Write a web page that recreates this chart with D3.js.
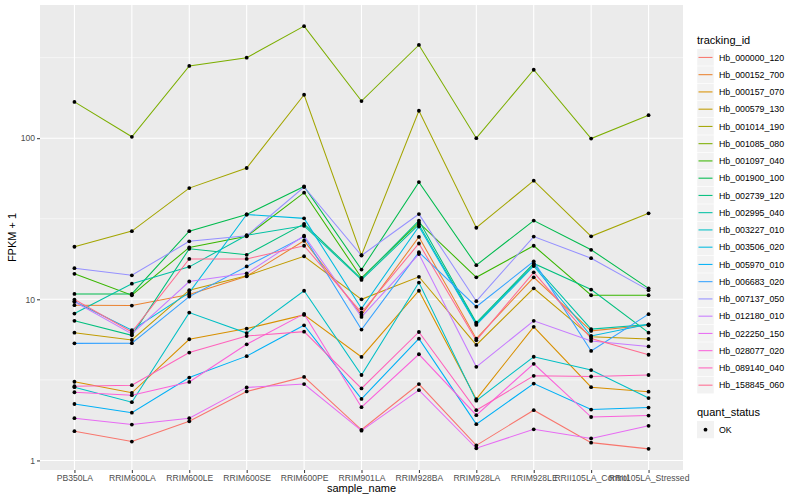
<!DOCTYPE html>
<html lang="en">
<head>
<meta charset="UTF-8">
<title>FPKM</title>
<script src="https://cdn.jsdelivr.net/npm/d3@7"></script>
<style>
  body { margin: 0; background: #fff; }
  text { font-family: "Liberation Sans", Arial, sans-serif; }
  .tick-label { font-size: 8.6px; fill: #4d4d4d; }
  .axis-title { font-size: 11px; fill: #000; }
  .legend-title { font-size: 11px; fill: #000; }
  .legend-label { font-size: 8.8px; fill: #000; }
</style>
</head>
<body>
<div id="chart"></div>
<script>
// samples on the x axis
const samples = ["PB350LA", "RRIM600LA", "RRIM600LE", "RRIM600SE", "RRIM600PE", "RRIM901LA",
  "RRIM928BA", "RRIM928LA", "RRIM928LE", "RRII105LA_Control", "RRII105LA_Stressed"];

const trackingIds = ["Hb_000000_120", "Hb_000152_700", "Hb_000157_070", "Hb_000579_130", "Hb_001014_190",
  "Hb_001085_080", "Hb_001097_040", "Hb_001900_100", "Hb_002739_120", "Hb_002995_040",
  "Hb_003227_010", "Hb_003506_020", "Hb_005970_010", "Hb_006683_020", "Hb_007137_050",
  "Hb_012180_010", "Hb_022250_150", "Hb_028077_020", "Hb_089140_040", "Hb_158845_060"];

// FPKM + 1 per tracking id, one value per sample (same order as samples)
const hb_000000_120 = [1.52, 1.31, 1.75, 2.68, 3.30, 1.55, 2.98, 1.24, 2.05, 1.29, 1.18];
const hb_000152_700 = [9.2, 9.15, 10.7, 13.9, 23.1, 8.0, 24.4, 5.70, 13.7, 6.37, 6.9];
const hb_000157_070 = [3.08, 2.63, 5.65, 6.58, 8.0, 4.39, 11.3, 2.40, 6.75, 2.85, 2.67];
const hb_000579_130 = [6.21, 5.59, 11.4, 14.0, 18.5, 10.0, 13.8, 5.21, 11.7, 5.85, 5.67];
const hb_001014_190 = [21.2, 26.5, 49, 65.3, 186, 18.8, 148, 27.8, 54.5, 24.6, 34.2];
const hb_001085_080 = [168, 102, 281, 316, 496, 170, 379, 100, 266, 99.5, 139];
const hb_001097_040 = [14.4, 10.6, 21.0, 24.6, 45.9, 13.6, 29.9, 13.7, 21.5, 10.6, 10.6];
const hb_001900_100 = [10.8, 10.8, 26.5, 33.6, 50.2, 15.3, 53.4, 16.3, 30.8, 20.3, 11.7];
const hb_002739_120 = [7.35, 5.98, 20.6, 18.9, 29.4, 13.4, 30.8, 7.17, 16.7, 11.5, 6.21];
const hb_002995_040 = [8.16, 12.5, 15.9, 25.0, 28.6, 13.2, 29.1, 7.04, 16.4, 6.53, 6.97];
const hb_003227_010 = [2.85, 2.30, 8.27, 6.17, 11.3, 3.39, 12.7, 2.35, 4.40, 3.64, 2.44];
const hb_003506_020 = [9.69, 6.43, 11.0, 33.6, 31.8, 8.77, 28.3, 6.94, 16.1, 5.92, 7.0];
const hb_005970_010 = [2.24, 1.98, 3.27, 4.44, 6.90, 2.41, 5.70, 1.68, 3.00, 2.07, 2.13];
const hb_006683_020 = [5.33, 5.34, 10.4, 16.0, 24.5, 6.49, 19.6, 9.0, 17.2, 4.78, 8.09];
const hb_007137_050 = [15.6, 14.1, 22.9, 24.8, 49.8, 18.7, 33.8, 9.74, 24.5, 18.0, 11.4];
const hb_012180_010 = [9.65, 6.10, 12.9, 14.5, 24.8, 7.78, 19.1, 3.81, 7.35, 5.52, 5.10];
const hb_022250_150 = [1.83, 1.67, 1.83, 2.84, 2.98, 1.53, 2.73, 1.19, 1.56, 1.37, 1.64];
const hb_028077_020 = [2.65, 2.54, 3.07, 5.26, 8.12, 2.14, 4.56, 1.91, 3.98, 1.86, 1.90];
const hb_089140_040 = [2.89, 2.93, 4.67, 5.92, 6.30, 2.80, 6.27, 2.05, 3.35, 3.32, 3.39];
const hb_158845_060 = [9.97, 6.27, 17.8, 17.8, 21.5, 8.27, 22.2, 5.57, 14.7, 5.71, 4.53];

const yTicks = [1, 10, 100];

const seriesValues = [hb_000000_120, hb_000152_700, hb_000157_070, hb_000579_130, hb_001014_190,
  hb_001085_080, hb_001097_040, hb_001900_100, hb_002739_120, hb_002995_040,
  hb_003227_010, hb_003506_020, hb_005970_010, hb_006683_020, hb_007137_050,
  hb_012180_010, hb_022250_150, hb_028077_020, hb_089140_040, hb_158845_060];

const series = trackingIds.map((id, i) => ({
  id: id,
  points: samples.map((s, j) => ({ sample: s, value: seriesValues[i][j] }))
}));

// ggplot hue palette for 20 groups
const colors = ["#F8766D", "#EA8331", "#D89000", "#C09B00", "#A3A500", "#7CAE00", "#39B600", "#00BB4E",
  "#00BF7D", "#00C1A3", "#00BFC4", "#00BAE0", "#00B0F6", "#35A2FF", "#9590FF", "#C77CFF",
  "#E76BF3", "#FA62DB", "#FF62BC", "#FF6C91"];
const color = d3.scaleOrdinal().domain(trackingIds).range(colors);

const width = 800, height = 500;
const margin = { top: 5, right: 117, bottom: 30, left: 40 };
const pw = width - margin.left - margin.right;
const ph = height - margin.top - margin.bottom;

const svg = d3.select("#chart").append("svg")
  .attr("width", width)
  .attr("height", height);

const g = svg.append("g")
  .attr("transform", `translate(${margin.left},${margin.top})`);

// x: discrete, 0.6 unit expansion each side
const x = d3.scalePoint()
  .domain(samples)
  .range([0, pw])
  .padding(0.6);

// y: log10 with 5% expansion
const allVals = seriesValues.flat();
const lo = Math.log10(d3.min(allVals)), hi = Math.log10(d3.max(allVals));
const pad = (hi - lo) * 0.05;
const y = d3.scaleLog()
  .domain([Math.pow(10, lo - pad), Math.pow(10, hi + pad)])
  .range([ph, 0]);

g.append("rect")
  .attr("width", pw)
  .attr("height", ph)
  .attr("fill", "#EBEBEB");

// minor grid (log midpoints)
const minor = [Math.pow(10, 0.5), Math.pow(10, 1.5), Math.pow(10, 2.5)];
g.selectAll(".minor")
  .data(minor)
  .enter().append("line")
  .attr("x1", 0).attr("x2", pw)
  .attr("y1", d => y(d)).attr("y2", d => y(d))
  .attr("stroke", "#fff").attr("stroke-width", 0.55);

g.selectAll(".hgrid")
  .data(yTicks)
  .enter().append("line")
  .attr("x1", 0).attr("x2", pw)
  .attr("y1", d => y(d)).attr("y2", d => y(d))
  .attr("stroke", "#fff").attr("stroke-width", 1.1);

g.selectAll(".vgrid")
  .data(samples)
  .enter().append("line")
  .attr("x1", d => x(d)).attr("x2", d => x(d))
  .attr("y1", 0).attr("y2", ph)
  .attr("stroke", "#fff").attr("stroke-width", 1.1);

// axes
const xAxis = g.append("g")
  .attr("transform", `translate(0,${ph})`)
  .call(d3.axisBottom(x).tickSize(3).tickPadding(2));
const yAxis = g.append("g")
  .call(d3.axisLeft(y).tickValues(yTicks).tickFormat(d3.format("d")).tickSize(3).tickPadding(2));
[xAxis, yAxis].forEach(a => {
  a.select(".domain").remove();
  a.selectAll(".tick line").attr("stroke", "#333");
  a.selectAll(".tick text").attr("class", "tick-label");
});

// lines
const line = d3.line()
  .x(d => x(d.sample))
  .y(d => y(d.value));

g.selectAll(".series")
  .data(series)
  .enter().append("path")
  .attr("d", d => line(d.points))
  .attr("fill", "none")
  .attr("stroke", d => color(d.id))
  .attr("stroke-width", 1.05);

// points
g.selectAll(".pts")
  .data(series.flatMap(s => s.points))
  .enter().append("circle")
  .attr("cx", d => x(d.sample))
  .attr("cy", d => y(d.value))
  .attr("r", 1.9)
  .attr("fill", "#000");

// axis titles
svg.append("text")
  .attr("class", "axis-title")
  .attr("x", margin.left + pw / 2)
  .attr("y", 492)
  .attr("text-anchor", "middle")
  .text("sample_name");

svg.append("text")
  .attr("class", "axis-title")
  .attr("transform", `translate(16,${margin.top + ph / 2}) rotate(-90)`)
  .attr("text-anchor", "middle")
  .text("FPKM + 1");

// legend: tracking_id
const lg = svg.append("g").attr("transform", "translate(697,0)");
lg.append("text")
  .attr("class", "legend-title")
  .attr("x", 0).attr("y", 44)
  .text("tracking_id");

const keyH = 17.25;
const items = lg.selectAll(".item")
  .data(trackingIds)
  .enter().append("g")
  .attr("transform", (d, i) => `translate(0,${48.8 + i * keyH})`);
items.append("rect")
  .attr("width", 17).attr("height", keyH)
  .attr("fill", "#F2F2F2")
  .attr("stroke", "#fff").attr("stroke-width", 0.5);
items.append("line")
  .attr("x1", 1.5).attr("x2", 15.5)
  .attr("y1", keyH / 2).attr("y2", keyH / 2)
  .attr("stroke", d => color(d))
  .attr("stroke-width", 1.05);
items.append("text")
  .attr("class", "legend-label")
  .attr("x", 22).attr("y", keyH / 2 + 3.1)
  .text(d => d);

// legend: quant_status
lg.append("text")
  .attr("class", "legend-title")
  .attr("x", 0).attr("y", 416)
  .text("quant_status");
const ok = lg.append("g").attr("transform", "translate(0,421)");
ok.append("rect")
  .attr("width", 17).attr("height", keyH)
  .attr("fill", "#F2F2F2");
ok.append("circle")
  .attr("cx", 8.5).attr("cy", keyH / 2)
  .attr("r", 1.9)
  .attr("fill", "#000");
ok.append("text")
  .attr("class", "legend-label")
  .attr("x", 22).attr("y", keyH / 2 + 3.1)
  .text("OK");
</script>
</body>
</html>
